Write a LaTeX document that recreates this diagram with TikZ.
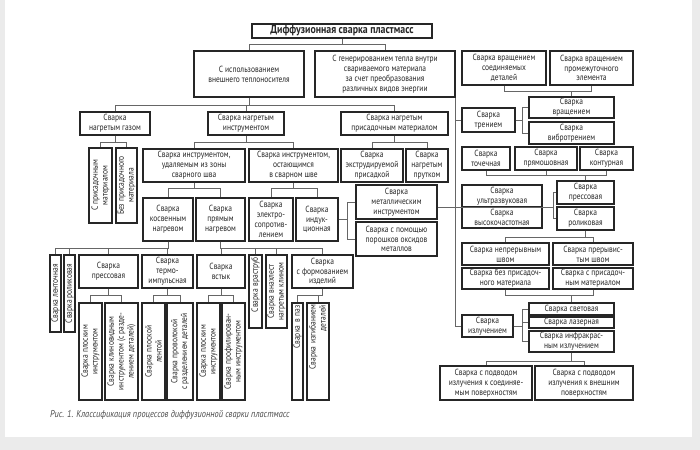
\documentclass[tikz,border=0pt]{standalone}
\usepackage{fontspec}
\newfontfamily\boxfont{PT Sans}[FakeStretch=0.84]
\usetikzlibrary{positioning,calc}
\newdimen\pxu \pxu=0.3mm

\begin{document}
\begin{tikzpicture}[x=0.3mm,y=-0.3mm,
  method/.style={draw=black!85,line width=1.2pt,fill=white,align=center,
    inner sep=1pt,text=black!85,
    font=\boxfont\fontsize{7.6}{8.4}\selectfont},
  dims/.style 2 args={minimum width=#1\pxu,minimum height=#2\pxu},
  upright/.style={method,rotate=90},
  topflush/.style={text width=#1\pxu,align=right},
  headline/.style={method,line width=1.4pt,
    font=\boxfont\bfseries\fontsize{10}{12}\selectfont},
  link/.style={draw=black!60,line width=.8pt},
  figcaption/.style={font=\boxfont\itshape\fontsize{8.5}{10}\selectfont,
    text=black!70,anchor=west,inner sep=0pt}
]
\useasboundingbox (0,0) rectangle (700,450);
\fill[black!8] (0,0) rectangle (700,450);
\fill[white] (5,0) rectangle (692,437);

% Root and the two main ways of heating.
\node[headline,dims={180}{14}] (root) at (342,31) {Диффузионная сварка пластмасс};
\node[method,dims={110}{46}] (ext) at (249,74)
  {С использованием\\внешнего теплоносителя};
\node[method,dims={140}{46}] (gen) at (385,74)
  {С генерированием тепла внутри\\свариваемого материала\\за счет преобразования\\различных видов энергии};

% External heat carrier.
\node[method,dims={70}{23}] (gas) at (115,123.5) {Сварка\\нагретым газом};
\node[method,dims={76}{23}] (tool) at (246,123.5) {Сварка нагретым\\инструментом};
\node[method,dims={107}{23}] (filler) at (394.5,123.5)
  {Сварка нагретым\\присадочным материалом};
\node[upright,dims={75}{23}] (gasA) at (100.5,185.5) {С присадочным\\материалом};
\node[upright,dims={75}{21}] (gasB) at (126.5,185.5) {Без присадочного\\материала};
\node[method,dims={102}{33}] (toolrem) at (194,165.5)
  {Сварка инструментом,\\удаляемым из зоны\\сварного шва};
\node[method,dims={89}{33}] (toolstay) at (293.5,165.5)
  {Сварка инструментом,\\остающимся\\в сварном шве};
\node[method,dims={62}{33}] (extrude) at (372,165.5)
  {Сварка\\экструдируемой\\присадкой};
\node[method,dims={42}{33}] (rod) at (427,165.5) {Сварка\\нагретым\\прутком};

\node[method,dims={50}{43}] (indirect) at (168,219.5) {Сварка\\косвенным\\нагревом};
\node[method,dims={49}{43}] (direct) at (220.5,219.5) {Сварка\\прямым\\нагревом};
\node[method,dims={44}{43}] (resist) at (271,219.5)
  {Сварка\\электро-\\сопротив-\\лением};
\node[method,dims={42}{43}] (induct) at (317,219.5) {Сварка\\индук-\\ционная};
\node[method,dims={81}{34}] (metal) at (396.5,202)
  {Сварка\\металлическим\\инструментом};
\node[method,dims={81}{34}] (oxide) at (396.5,239)
  {Сварка с помощью\\порошков оксидов\\металлов};

\node[upright,dims={77}{11}] (tape) at (55.5,293.5) {Сварка ленточная};
\node[upright,dims={77}{11}] (roller) at (69.5,293.5) {Сварка роликовая};
\node[method,dims={59}{33}] (press) at (108.5,271.5) {Сварка\\прессовая};
\node[method,dims={51}{33}] (thermo) at (167.5,271.5) {Сварка\\термо-\\импульсная};
\node[method,dims={48}{33}] (butt) at (221,271.5) {Сварка\\встык};
\node[upright,topflush=69,dims={73}{13}] (socket) at (255.5,291.5) {Сварка враструб};
\node[upright,dims={73}{21}] (lap) at (276.5,291.5) {Сварка внахлест\\нагретым клином};
\node[method,dims={61}{33}] (form) at (322.5,271.5)
  {Сварка\\с формованием\\изделий};

\node[upright,dims={97}{23}] (pressA) at (90.5,351.5) {Сварка плоским\\инструментом};
\node[upright,dims={97}{33}] (pressB) at (121.5,351.5)
  {Сварка клиновидным\\инструментом (с разде-\\лением деталей)};
\node[upright,dims={97}{23}] (thermoA) at (153.5,351.5) {Сварка плоской\\лентой};
\node[upright,dims={97}{26}] (thermoB) at (180,351.5)
  {Сварка проволокой\\с разделением деталей};
\node[upright,dims={97}{23}] (buttA) at (208.5,351.5) {Сварка плоским\\инструментом};
\node[upright,dims={97}{23}] (buttB) at (233.5,351.5)
  {Сварка профилирован-\\ным инструментом};
\node[upright,topflush=93,dims={97}{11}] (formA) at (297.5,351.5) {Сварка в паз};
\node[upright,topflush=93,dims={97}{22}] (formB) at (318,351.5)
  {Сварка изгибанием\\деталей};

% Heat generated inside the material.
\node[method,dims={84}{34}] (rotjoin) at (504,68)
  {Сварка вращением\\соединяемых\\деталей};
\node[method,dims={83}{34}] (rotmid) at (591.5,68)
  {Сварка вращением\\промежуточного\\элемента};
\node[method,dims={53}{24}] (friction) at (488.5,120) {Сварка\\трением};
\node[method,dims={85}{21}] (spin) at (571.5,107.5) {Сварка\\вращением};
\node[method,dims={85}{22}] (vibro) at (571.5,133) {Сварка\\вибротрением};
\node[method,dims={48}{23}] (spot) at (486,158.5) {Сварка\\точечная};
\node[method,dims={62}{23}] (straight) at (546,158.5) {Сварка\\прямошовная};
\node[method,dims={53}{23}] (contour) at (606.5,158.5) {Сварка\\контурная};
\node[method,dims={80}{22}] (ultra) at (502,196) {Сварка\\ультразвуковая};
\node[method,dims={80}{21}] (hf) at (502,217.5) {Сварка\\высокочастотная};
\node[method,dims={57}{23}] (rpress) at (585.5,192.5) {Сварка\\прессовая};
\node[method,dims={57}{23}] (rroll) at (585.5,218.5) {Сварка\\роликовая};
\node[method,dims={87}{22}] (cont) at (505.5,254) {Сварка непрерывным\\швом};
\node[method,dims={80}{22}] (interm) at (593,254) {Сварка прерывис-\\тым швом};
\node[method,dims={87}{21}] (nofill) at (505.5,278.5)
  {Сварка без присадоч-\\ного материала};
\node[method,dims={80}{21}] (withfill) at (593,278.5)
  {Сварка с присадоч-\\ным материалом};
\node[method,dims={51}{22}] (radiation) at (487.5,326) {Сварка\\излучением};
\node[method,dims={85}{12}] (light) at (571.5,309) {Сварка световая};
\node[method,dims={85}{11}] (laser) at (571.5,322.5) {Сварка лазерная};
\node[method,dims={85}{21}] (ir) at (571.5,341.5) {Сварка инфракрас-\\ным излучением};
\node[method,dims={92}{34}] (joint) at (486,383)
  {Сварка с подводом\\излучения к соединяе-\\мым поверхностям};
\node[method,dims={98}{34}] (outer) at (584,383)
  {Сварка с подводом\\излучения к внешним\\поверхностям};

\node[figcaption] (cap) at (50,415)
  {Рис. 1. Классификация процессов диффузионной сварки пластмасс};

% Tree connectors, left part.
\foreach \kid in {ext,gen}
  \draw[link] (root.south) -- ++(0,6) -| (\kid);
\foreach \kid in {gas,tool,filler}
  \draw[link] (ext.south) -- ++(0,8) -| (\kid);
\foreach \kid in {gasA,gasB}
  \draw[link] (gas.south) -- ++(0,7) -| (\kid);
\foreach \kid in {toolrem,toolstay}
  \draw[link] (tool.south) -- ++(0,7) -| (\kid);
\foreach \kid in {extrude,rod}
  \draw[link] (filler.south) -- ++(0,7) -| (\kid);
\foreach \kid in {indirect,direct}
  \draw[link] (toolrem.south) -- ++(0,6) -| (\kid);
\foreach \kid in {resist,induct}
  \draw[link] (toolstay.south) -- ++(0,6) -| (\kid);
\foreach \kid in {metal,oxide}
  \draw[link] (induct.east) -- ++(9,0) |- (\kid.west);
\foreach \kid in {tape,roller,press,thermo}
  \draw[link] (indirect.south) -- ++(0,7) -| (\kid);
\foreach \kid in {butt,socket,lap,form}
  \draw[link] (direct.south) -- ++(0,7) -| (\kid);
\foreach \top/\kid in {press/pressA,press/pressB,thermo/thermoA,thermo/thermoB,
    butt/buttA,butt/buttB,form/formA,form/formB}
  \draw[link] (\top.south) -- ++(0,7) -| (\kid);

% Trunk on the right and its branches.
\draw[link] (gen.south east) |- (radiation.west);
\draw[link] (gen.south east |- friction.west) -- (friction.west);
\coordinate (rb) at (571.5,91);
\draw[link] (rotjoin.south) |- (rb) -- (spin.north);
\draw[link] (rotmid.south) |- (rb);
\foreach \kid in {spin,vibro}
  \draw[link] (friction.east) -- ++(7,0) |- (\kid.west);
\coordinate (cb) at (585.5,175);
\draw[link] (spot.south) |- (cb) -- (rpress.north);
\foreach \kid in {straight,contour}
  \draw[link] (\kid.south) |- (cb);
\coordinate (ub) at (553,207);
\draw[link] (metal.east |- ub) -- (ub);
\foreach \kid in {rpress,rroll}
  \draw[link] (ub) |- (\kid.west);
\foreach \kid in {cont,interm}
  \draw[link] (rroll.south) -- ++(0,7) -| (\kid);
\coordinate (fb) at (571.5,295);
\draw[link] (nofill.south) |- (fb) -- (light.north);
\draw[link] (withfill.south) |- (fb);
\foreach \kid in {light,laser,ir}
  \draw[link] (radiation.east) -- ++(9,0) |- (\kid.west);
\foreach \kid in {joint,outer}
  \draw[link] (ir.south) -- ++(0,8.5) -| (\kid);
\end{tikzpicture}
\end{document}
